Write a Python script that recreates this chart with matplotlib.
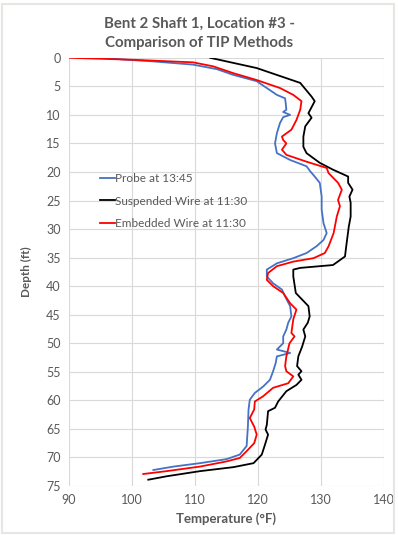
import numpy as np
import matplotlib
matplotlib.use('Agg')
import matplotlib.pyplot as plt
from matplotlib.patches import Rectangle

# глубина (ft) и температура (°F) для каждой кривой
probe_depth = [0, 0.3, 0.6, 1.2, 2.0, 3.0, 4.1, 5.3, 6.5, 7.1, 8.0, 9.1, 9.5, 10.0, 10.4,
               11.4, 13.2, 15.0, 16.7, 17.9, 19.0, 19.9, 20.8, 21.9, 24.3, 26.6, 29.0,
               30.7, 31.9, 33.0, 34.2, 35.1, 36.0, 37.1, 38.3, 39.5, 40.6, 41.8, 43.5,
               45.3, 46.4, 47.6, 48.8, 50.0, 51.1, 51.7, 52.3, 53.5, 54.9, 56.4, 57.6,
               58.7, 59.9, 61.6, 64.6, 68.0, 69.5, 70.3, 71.0, 71.6, 72.2]
probe_temp = [96.0, 98.5, 103.0, 109.7, 113.5, 116.1, 119.8, 121.4, 123.0, 124.3, 124.4,
              124.5, 124.0, 125.1, 124.0, 123.5, 123.0, 122.7, 123.0, 125.1, 127.7, 128.3,
              129.0, 129.8, 130.1, 130.1, 130.4, 130.9, 130.4, 129.3, 127.7, 125.6, 123.0,
              121.4, 121.4, 122.4, 123.8, 124.3, 125.1, 125.3, 124.8, 124.5, 124.0, 124.0,
              123.0, 125.1, 123.0, 122.8, 122.4, 121.9, 120.8, 119.5, 118.7, 118.5, 118.4,
              118.2, 117.1, 115.0, 110.8, 106.6, 103.4]

susp_depth = [0, 1.8, 4.4, 6.8, 7.6, 9.7, 10.5, 12.0, 13.8, 15.6, 16.7, 18.4, 19.6, 20.8,
              21.9, 23.1, 24.3, 25.4, 27.8, 29.6, 33.0, 34.8, 36.3, 36.8, 37.1, 38.3,
              41.2, 43.5, 45.3, 46.4, 47.6, 48.8, 50.6, 52.3, 54.0, 54.9, 55.5, 56.4,
              57.3, 58.4, 60.2, 61.3, 61.9, 64.3, 65.1, 66.0, 67.8, 69.5, 71.0, 71.7,
              72.4, 73.3, 73.9]
susp_temp = [112.4, 119.8, 126.7, 128.5, 129.0, 128.0, 128.5, 127.5, 127.2, 127.2, 127.7,
             129.8, 131.9, 134.3, 134.3, 135.0, 134.5, 134.7, 134.7, 134.4, 134.0, 133.8,
             131.9, 126.7, 125.6, 125.6, 126.0, 128.0, 128.2, 127.9, 127.2, 127.5, 127.0,
             126.4, 126.2, 126.9, 126.4, 126.9, 126.1, 124.5, 123.2, 122.7, 121.6, 121.4,
             121.2, 121.6, 121.1, 120.6, 119.3, 116.1, 110.8, 105.5, 102.6]

emb_depth = [0, 0.35, 0.8, 1.5, 2.7, 3.9, 5.3, 6.5, 7.6, 9.1, 10.9, 12.6, 13.8, 14.4,
             15.0, 16.1, 17.0, 18.2, 19.3, 20.2, 21.9, 23.1, 24.9, 26.0, 27.8, 30.7,
             33.0, 34.2, 35.1, 35.7, 36.5, 37.7, 38.9, 40.0, 41.2, 43.0, 44.1, 45.8,
             48.2, 48.8, 50.0, 52.3, 54.0, 54.9, 55.8, 57.0, 57.8, 59.3, 60.2, 61.6,
             63.1, 64.6, 66.0, 67.5, 68.9, 70.1, 70.7, 71.6, 72.4, 72.9]
emb_temp = [90.0, 100.2, 109.7, 112.9, 116.1, 119.8, 123.5, 125.6, 126.9, 126.7, 126.1,
            125.3, 123.8, 124.0, 124.5, 123.8, 124.5, 127.7, 130.9, 131.2, 132.7, 133.3,
            132.7, 133.0, 132.5, 132.0, 131.2, 130.6, 128.8, 125.6, 123.0, 121.6, 121.4,
            122.4, 124.0, 125.1, 126.1, 125.6, 125.3, 125.8, 125.0, 124.5, 124.3, 124.5,
            125.6, 124.8, 122.4, 120.8, 119.5, 119.4, 118.7, 119.4, 119.8, 119.4, 118.2,
            117.1, 115.0, 110.8, 105.5, 101.8]

labels = ['Probe at 13:45', 'Suspended Wire at 11:30', 'Embedded Wire at 11:30']
colors = ['#4472c4', '#000000', '#ff0000']

plt.rcParams['font.family'] = ['Lato', 'DejaVu Sans']
grey = '#595959'

fig = plt.figure(figsize=(3.98, 5.35), dpi=100)
fig.patches.append(Rectangle((0.004, 0.004), 0.985, 0.988, transform=fig.transFigure,
                             fill=False, edgecolor='#e6e6e2', linewidth=1.5))
ax = fig.add_axes([0.173, 0.0916, 0.792, 0.8004])

series = [(probe_temp, probe_depth), (susp_temp, susp_depth), (emb_temp, emb_depth)]
for (t, d), lab, c in zip(series, labels, colors):
    ax.plot(t, d, color=c, linewidth=1.3, label=lab)

ax.set_xlim(90, 140)
ax.set_ylim(75, 0)
ax.set_xticks(np.arange(90, 141, 10))
ax.set_yticks(np.arange(0, 76, 5))
ax.grid(True, color='#d9d9d9', linewidth=0.8)
ax.set_axisbelow(True)
for s in ax.spines.values():
    s.set_visible(False)
ax.tick_params(length=0, labelsize=9, colors=grey, pad=6)

ax.set_xlabel('Temperature (°F)', fontsize=9.5, fontweight='bold', color=grey, labelpad=4)
ax.set_ylabel('Depth (ft)', fontsize=8.5, fontweight='bold', color=grey, labelpad=10)
fig.suptitle('Bent 2 Shaft 1, Location #3 -\nComparison of TIP Methods', fontsize=10.8,
             fontweight='bold', color=grey, y=0.968, linespacing=1.45)

leg = ax.legend(loc='upper left', bbox_to_anchor=(0.065, 0.755), frameon=False, fontsize=8.5,
                handlelength=1.3, handletextpad=0.0, labelspacing=0.95, labelcolor=grey)

fig.savefig('out.png', dpi=100)
